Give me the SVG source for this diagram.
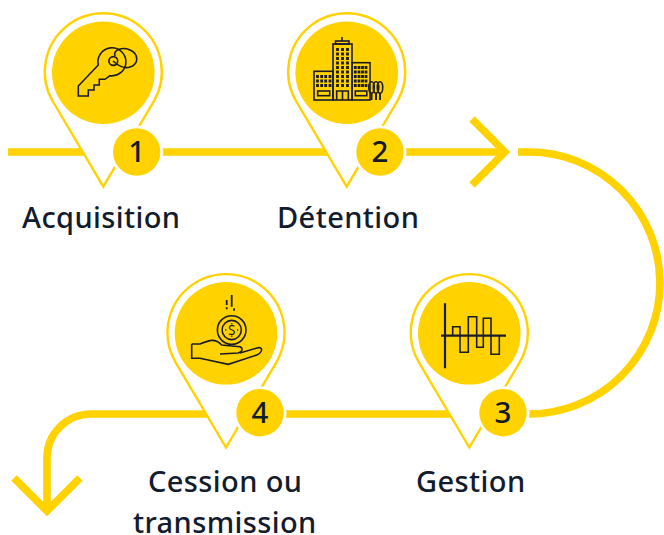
<svg xmlns="http://www.w3.org/2000/svg" width="664" height="535" viewBox="0 0 664 535">
  <style>
    .conn{fill:none;stroke:#ffd200;stroke-width:7.6}
    .ring{fill:#fff;stroke:#ffd200;stroke-width:2.4;stroke-linejoin:miter;stroke-miterlimit:10}
    .disc{fill:#ffd200}
    .halo{fill:#fff}
    .num{font-family:"Noto Sans","Liberation Sans",sans-serif;font-size:29.5px;font-weight:500;fill:#151a28;text-anchor:middle}
    .lab{font-family:"Noto Sans","Liberation Sans",sans-serif;font-size:29px;font-weight:500;letter-spacing:.4px;fill:#121c2e}
    .ico{fill:none;stroke:#1c1c28;stroke-width:1.6}
    .win{fill:none;stroke:#1c1c28;stroke-width:2.8;stroke-dasharray:3 1.5}
  </style>
  <defs>
    <marker id="chev" markerUnits="userSpaceOnUse" markerWidth="60" markerHeight="90" viewBox="-45 -45 60 90" refX="0" refY="0" orient="auto" overflow="visible">
      <path d="M-33,-33 L0,0 L-33,33" fill="none" stroke="#ffd200" stroke-width="7.6" stroke-miterlimit="10"/>
    </marker>
    <path id="pin" class="ring" d="M0,115 L-50.4,29.8 A58.5,58.5 0 1 1 50.4,29.8 Z"/>
  </defs>
  <rect width="664" height="535" fill="#fff"/>
  <g id="connectors">
    <path class="conn" d="M8,152 H505" marker-end="url(#chev)"/>
    <path class="conn" d="M518,152 H529 A131,131 0 0 1 529,414 H91 A44,44 0 0 0 47,458 V511" marker-end="url(#chev)"/>
  </g>
  <g id="step1">
    <use href="#pin" x="103.3" y="71.7"/>
    <circle class="disc" cx="103.3" cy="72.7" r="51.3"/>
    <g class="ico">
      <path d="M98.3,65 L78.3,86 V96 H88.3 V90 H94 V85 H99.3 V79.3 H105 L110,75.7 A14,14 0 1 0 98.3,65 Z"/>
      <circle cx="113.3" cy="61" r="4.4"/>
      <path d="M115,56 C113,49 123,47 130,50 C139,54 139,64 130,67 C125,69 118,66 113,61"/>
    </g>
    <circle class="halo" cx="136.7" cy="152" r="26.5"/>
    <circle class="disc" cx="136.7" cy="152" r="23.7"/>
    <text class="num" x="136.7" y="162.3">1</text>
  </g>
  <g id="step2">
    <use href="#pin" x="346.7" y="71.7"/>
    <circle class="disc" cx="346.7" cy="72.7" r="51.3"/>
    <g class="ico">
      <rect x="333" y="44" width="19" height="56"/>
      <rect x="335.5" y="41" width="13.5" height="3"/>
      <path d="M342,37 V41"/>
      <rect x="314" y="71.3" width="19" height="28.7"/>
      <rect x="352" y="62.7" width="18" height="37.3"/>
      <rect x="317.7" y="91" width="12" height="4.7"/>
      <rect x="355.3" y="91" width="11.5" height="4.7"/>
      <path d="M336.7,100 V91 H348.3 V100 M342.5,91 V100"/>
      <ellipse cx="371.5" cy="87.5" rx="2.7" ry="5.7"/>
      <ellipse cx="376" cy="87.5" rx="2.7" ry="5.7"/>
      <ellipse cx="380" cy="87.5" rx="2.7" ry="5.7"/>
      <path d="M371.5,93 V100 M376,93 V100 M380,93 V100" style="stroke-width:2"/>
    </g>
    <path class="win" d="M337.5,48 V88 M342.5,48 V88 M347.5,48 V88 M317.5,75 V87 M321.7,75 V87 M325.7,75 V87 M330,75 V87 M355.3,66 V87 M359,66 V87 M362.5,66 V87 M366,66 V87"/>
    <circle class="halo" cx="380" cy="152" r="26.5"/>
    <circle class="disc" cx="380" cy="152" r="23.7"/>
    <text class="num" x="380" y="162.3">2</text>
  </g>
  <g id="step3">
    <use href="#pin" x="469.3" y="332.5"/>
    <circle class="disc" cx="469.3" cy="333.3" r="51.3"/>
    <path class="ico" d="M445,303.3 V368.3 M441,335.7 H506" style="stroke-width:2.2"/>
    <path class="ico" d="M452.7,335.7 V326.7 H460 V352.3 H468.3 V316.7 H476.7 V347.3 H483.3 V318.3 H491 V354.3 H499.3 V335.7"/>
    <circle class="halo" cx="503" cy="412.7" r="26.5"/>
    <circle class="disc" cx="503" cy="412.7" r="23.7"/>
    <text class="num" x="503" y="423">3</text>
  </g>
  <g id="step4">
    <use href="#pin" x="226" y="332.5"/>
    <circle class="disc" cx="226" cy="333.3" r="51.3"/>
    <g class="ico">
      <path d="M226.7,300 V305 M226.7,307.3 V309.3 M231.7,295 V306.7 M234,308.3 V310.7" style="stroke-width:1.8"/>
      <circle cx="231.7" cy="330" r="14.3"/>
      <circle cx="231.7" cy="330" r="9.6"/>
      <path d="M225.2,330 H226.4 M237,330 H238.2 M231.7,323.3 V324.6 M231.7,335.4 V336.7"/>
      <path d="M191.7,344 H200 C210,340 215,338 221.7,345 L240,346.7 C243,348 243,352 238,353 L220,354"/>
      <path d="M191.7,344 V358.3 H200 L228.3,364.3 L256.7,355 C263,352 263,347 258,347.7 L240,353"/>
    </g>
    <text x="231.7" y="334.8" font-family="Noto Sans,sans-serif" font-size="13.5" fill="#1c1c28" text-anchor="middle">S</text>
    <circle class="halo" cx="260" cy="412.7" r="26.5"/>
    <circle class="disc" cx="260" cy="412.7" r="23.7"/>
    <text class="num" x="260" y="423">4</text>
  </g>
  <g id="labels">
    <text class="lab" x="22" y="228">Acquisition</text>
    <text class="lab" x="277" y="228">Détention</text>
    <text class="lab" x="416" y="491.5">Gestion</text>
    <text class="lab" x="148" y="491.5">Cession ou</text>
    <text class="lab" x="133" y="533">transmission</text>
  </g>
</svg>
